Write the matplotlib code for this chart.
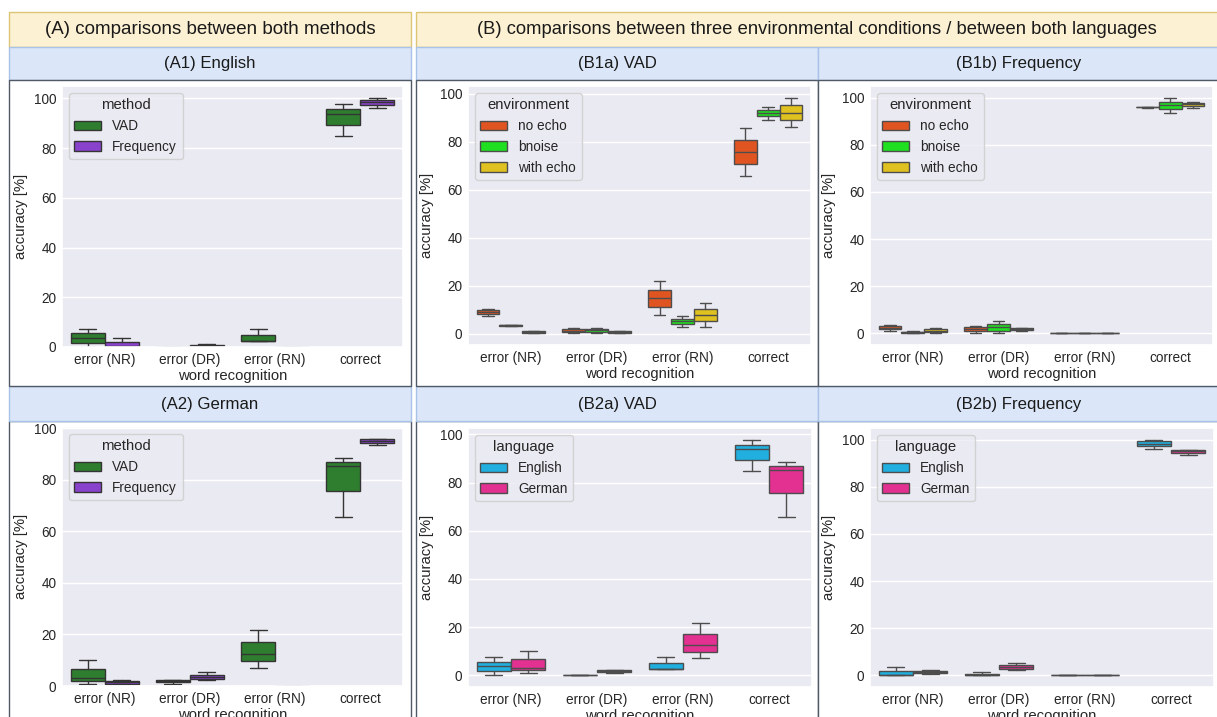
import colorsys
import numpy as np
import matplotlib
matplotlib.use("Agg")
import matplotlib.pyplot as plt
from matplotlib.patches import Rectangle, Patch
import seaborn as sns

sns.set_theme(style="darkgrid")
plt.rcParams["font.family"] = ["Liberation Sans", "DejaVu Sans"]

categories = ["error (NR)", "error (DR)", "error (RN)", "correct"]

# five-number summaries per category: (whisker low, q1, median, q3, whisker high)
vad_english = [(0.0, 1.7, 3.7, 5.5, 7.4), (0.0, 0.0, 0.0, 0.0, 0.0),
               (2.4, 2.4, 2.4, 4.9, 7.4), (85.0, 89.4, 93.8, 95.7, 97.8)]
vad_german = [(0.85, 2.05, 3.15, 6.7, 10.25), (0.85, 1.45, 1.85, 2.2, 2.2),
              (7.15, 9.85, 12.55, 17.1, 21.75), (65.7, 75.5, 85.3, 87.0, 88.5)]
freq_english = [(0.0, 0.0, 0.3, 2.0, 3.7), (0.0, 0.0, 0.3, 0.7, 1.2),
                (0.0, 0.0, 0.0, 0.0, 0.0), (96.0, 97.4, 98.4, 99.3, 100.0)]
freq_german = [(0.65, 0.95, 1.4, 1.75, 2.2), (2.15, 2.55, 3.65, 4.4, 5.35),
               (0.0, 0.0, 0.0, 0.0, 0.0), (93.5, 94.4, 95.05, 95.65, 95.65)]

vad_noecho = [(7.5, 8.2, 9.0, 10.0, 10.4), (0.3, 0.7, 1.25, 1.9, 2.2),
              (7.6, 11.1, 14.8, 18.4, 22.0), (65.9, 70.9, 75.9, 80.6, 85.5)]
vad_bnoise = [(3.2, 3.3, 3.5, 3.7, 3.8), (0.3, 0.7, 1.4, 1.8, 2.2),
              (2.8, 3.9, 5.1, 6.1, 7.3), (89.2, 90.6, 92.0, 93.1, 94.5)]
vad_withecho = [(0.2, 0.4, 0.7, 1.0, 1.1), (0.2, 0.4, 0.7, 1.0, 1.1),
                (2.8, 5.1, 7.6, 10.2, 12.7), (86.0, 88.9, 92.1, 95.2, 98.3)]
freq_noecho = [(1.1, 1.7, 2.4, 3.1, 3.5), (0.0, 0.85, 1.8, 2.5, 3.1),
               (0.0, 0.0, 0.0, 0.0, 0.0), (95.8, 95.9, 96.0, 96.1, 96.2)]
freq_bnoise = [(0.0, 0.15, 0.4, 0.7, 0.9), (0.0, 1.1, 2.5, 4.0, 5.4),
               (0.0, 0.0, 0.0, 0.0, 0.0), (93.6, 95.2, 96.9, 98.3, 100.0)]
freq_withecho = [(0.0, 0.4, 1.1, 1.7, 2.4), (1.1, 1.4, 1.8, 2.1, 2.3),
                 (0.0, 0.0, 0.0, 0.0, 0.0), (95.8, 96.5, 97.3, 97.9, 98.4)]

method_labels = ["VAD", "Frequency"]
env_labels = ["no echo", "bnoise", "with echo"]
lang_labels = ["English", "German"]

method_colors = [sns.desaturate(c, 0.75) for c in ["forestgreen", "blueviolet"]]
env_colors = [sns.desaturate(c, 0.75) for c in ["orangered", "lime", "gold"]]
lang_colors = [sns.desaturate(c, 0.75) for c in ["deepskyblue", "deeppink"]]

W, H = 1217, 717
fig = plt.figure(figsize=(W / 100, H / 100), dpi=100)


def px_rect(x0, y0, x1, y1, **kw):
    r = Rectangle((x0 / W, 1 - y1 / H), (x1 - x0) / W, (y1 - y0) / H,
                  transform=fig.transFigure, zorder=-1, **kw)
    fig.add_artist(r)


def px_text(x, y, s, size):
    fig.text(x / W, 1 - y / H, s, ha="center", va="center", fontsize=size,
             color="#1a1a1a")


def px_axes(x0, y0, x1, y1):
    return fig.add_axes([x0 / W, 1 - y1 / H, (x1 - x0) / W, (y1 - y0) / H])


# table-like frame around the panels
yellow, yellow_edge = "#fdf1d3", "#dcc676"
blue, blue_edge = "#dbe7f9", "#a9c2e7"
dark = "#505a66"
px_rect(9, 12, 411, 46.5, facecolor=yellow, edgecolor=yellow_edge, lw=1)
px_rect(416, 12, 1220, 46.5, facecolor=yellow, edgecolor=yellow_edge, lw=1)
px_text(210, 30, "(A) comparisons between both methods", 13.5)
px_text(817, 30, "(B) comparisons between three environmental conditions / between both languages", 13.2)

cols = [(9, 411), (416, 818), (818, 1220)]
titles = [["(A1) English", "(B1a) VAD", "(B1b) Frequency"],
          ["(A2) German", "(B2a) VAD", "(B2b) Frequency"]]
# second row first, so the dark bottom edge of the first row stays on top
for c, (x0, x1) in enumerate(cols):
    px_rect(x0, 421, x1, 730, facecolor="white", edgecolor=dark, lw=1)
    px_rect(x0, 386, x1, 421, facecolor=blue, edgecolor=blue_edge, lw=1)
    px_text((x0 + x1) / 2, 404, titles[1][c], 12.1)
for c, (x0, x1) in enumerate(cols):
    px_rect(x0, 46.5, x1, 80, facecolor=blue, edgecolor=blue_edge, lw=1)
    px_rect(x0, 80, x1, 386, facecolor="white", edgecolor=dark, lw=1)
    px_text((x0 + x1) / 2, 63.5, titles[0][c], 12.1)


def draw_panel(ax, series, labels, colors, legend_title):
    n = len(series)
    w = 0.8 / n
    lum = min(colorsys.rgb_to_hls(*col)[1] for col in colors) * 0.6
    gray = (lum, lum, lum)
    lw = 1.0
    for j, (summ, col) in enumerate(zip(series, colors)):
        stats = [dict(whislo=a, q1=b, med=m, q3=d, whishi=e, fliers=[])
                 for a, b, m, d, e in summ]
        pos = np.arange(len(categories)) + (j - (n - 1) / 2) * w
        ax.bxp(stats, positions=pos, widths=w, patch_artist=True,
               showfliers=False, manage_ticks=False,
               boxprops=dict(facecolor=col, edgecolor=gray, linewidth=lw),
               whiskerprops=dict(color=gray, linewidth=lw),
               capprops=dict(color=gray, linewidth=lw),
               medianprops=dict(color=gray, linewidth=lw))
    ax.set_xticks(range(len(categories)), categories)
    ax.set_xlim(-0.5, len(categories) - 0.5)
    ax.xaxis.grid(False)
    ax.tick_params(length=0, labelsize=9.8, pad=4)
    ax.set_xlabel("word recognition", fontsize=10.7, labelpad=2)
    ax.set_ylabel("accuracy [%]", fontsize=10.7)
    handles = [Patch(facecolor=col, edgecolor=gray, linewidth=lw, label=lab)
               for col, lab in zip(colors, labels)]
    ax.legend(handles=handles, title=legend_title, loc="upper left",
              fontsize=9.8, title_fontsize=10.7)


ax = px_axes(62, 86, 403, 347)
draw_panel(ax, [vad_english, freq_english], method_labels, method_colors, "method")
ax.set_ylim(bottom=0)
ax = px_axes(62, 427, 403, 686)
draw_panel(ax, [vad_german, freq_german], method_labels, method_colors, "method")
ax.set_ylim(bottom=0)

ax = px_axes(468, 86, 811, 345)
draw_panel(ax, [vad_noecho, vad_bnoise, vad_withecho], env_labels, env_colors, "environment")
ax = px_axes(870, 86, 1213, 345)
draw_panel(ax, [freq_noecho, freq_bnoise, freq_withecho], env_labels, env_colors, "environment")

ax = px_axes(468, 428, 812, 687)
draw_panel(ax, [vad_english, vad_german], lang_labels, lang_colors, "language")
ax = px_axes(870, 428, 1214, 687)
draw_panel(ax, [freq_english, freq_german], lang_labels, lang_colors, "language")

fig.savefig("out.png", dpi=100)
